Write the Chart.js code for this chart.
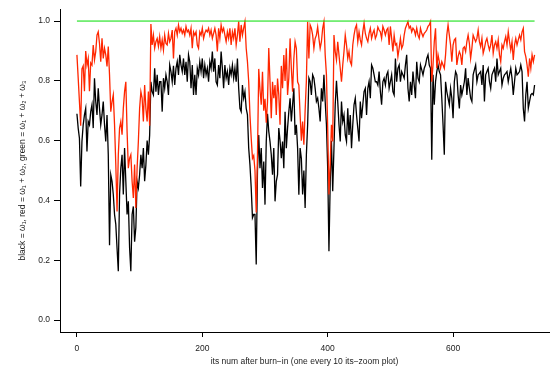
<!DOCTYPE html>
<html>
<head>
<meta charset="utf-8">
<title>omega trace</title>
<script src="https://cdn.jsdelivr.net/npm/chart.js@4.4.1/dist/chart.umd.min.js"></script>
<style>
  html, body { margin: 0; padding: 0; background: #fff; }
  #wrap { width: 553px; height: 379px; }
</style>
</head>
<body>
<div id="wrap"><canvas id="trace" width="553" height="379"></canvas></div>
<script>
/* one value every STEP iterations (0 .. 730) */
const STEP = 2;

// black = w1
const black = [
  0.69, 0.642, 0.608, 0.447, 0.597, 0.653, 0.686, 0.708, 0.564, 0.664,   // 0
  0.653, 0.697, 0.72, 0.642, 0.809, 0.731, 0.686, 0.775, 0.708, 0.653,   // 20
  0.686, 0.731, 0.653, 0.597, 0.686, 0.553, 0.25, 0.486, 0.464, 0.42,    // 40
  0.353, 0.32, 0.24, 0.163, 0.42, 0.508, 0.553, 0.42, 0.575, 0.464,      // 60
  0.353, 0.397, 0.242, 0.163, 0.353, 0.38, 0.262, 0.31, 0.464, 0.442,    // 80
  0.486, 0.553, 0.508, 0.575, 0.464, 0.519, 0.60, 0.553, 0.619, 0.797,   // 100
  0.764, 0.753, 0.842, 0.764, 0.82, 0.753, 0.797, 0.797, 0.697, 0.809,   // 120
  0.775, 0.82, 0.797, 0.753, 0.853, 0.831, 0.797, 0.85, 0.786, 0.842,    // 140
  0.864, 0.82, 0.887, 0.853, 0.831, 0.875, 0.82, 0.864, 0.797, 0.887,    // 160
  0.864, 0.775, 0.853, 0.753, 0.82, 0.753, 0.842, 0.82, 0.864, 0.831,    // 180
  0.875, 0.809, 0.853, 0.82, 0.842, 0.797, 0.864, 0.842, 0.898, 0.831,   // 200
  0.875, 0.797, 0.786, 0.853, 0.809, 0.898, 0.842, 0.775, 0.853, 0.809,  // 220
  0.831, 0.786, 0.842, 0.82, 0.853, 0.809, 0.842, 0.797, 0.875, 0.775,   // 240
  0.708, 0.697, 0.786, 0.742, 0.764, 0.708, 0.686, 0.575, 0.519, 0.442,  // 260
  0.342, 0.353, 0.353, 0.186, 0.50, 0.619, 0.508, 0.575, 0.442, 0.53,    // 280
  0.386, 0.597, 0.69, 0.631, 0.597, 0.553, 0.486, 0.575, 0.397, 0.464,   // 300
  0.486, 0.642, 0.60, 0.541, 0.597, 0.508, 0.697, 0.575, 0.642, 0.697,   // 320
  0.742, 0.664, 0.72, 0.775, 0.619, 0.653, 0.575, 0.419, 0.575, 0.54,    // 340
  0.42, 0.50, 0.375, 0.553, 0.653, 0.809, 0.797, 0.753, 0.82, 0.809,     // 360
  0.775, 0.731, 0.742, 0.708, 0.664, 0.775, 0.731, 0.82, 0.731, 0.653,   // 380
  0.508, 0.23, 0.46, 0.60, 0.431, 0.575, 0.72, 0.80, 0.731, 0.653,       // 400
  0.597, 0.731, 0.664, 0.686, 0.619, 0.597, 0.708, 0.619, 0.686, 0.575,  // 420
  0.653, 0.72, 0.742, 0.686, 0.642, 0.597, 0.731, 0.675, 0.72, 0.764,   // 440
  0.775, 0.686, 0.775, 0.797, 0.742, 0.853, 0.842, 0.82, 0.797, 0.797,   // 460
  0.786, 0.831, 0.764, 0.72, 0.797, 0.809, 0.786, 0.82, 0.831, 0.775,    // 480
  0.797, 0.82, 0.764, 0.753, 0.875, 0.797, 0.842, 0.853, 0.797, 0.831,   // 500
  0.82, 0.809, 0.853, 0.887, 0.775, 0.731, 0.797, 0.753, 0.831, 0.786,   // 520
  0.742, 0.864, 0.809, 0.797, 0.853, 0.837, 0.82, 0.842, 0.853, 0.875,   // 540
  0.887, 0.853, 0.842, 0.536, 0.82, 0.72, 0.797, 0.831, 0.853, 0.831,    // 560
  0.82, 0.742, 0.653, 0.553, 0.797, 0.764, 0.742, 0.72, 0.775, 0.742,    // 580
  0.675, 0.797, 0.831, 0.82, 0.753, 0.708, 0.786, 0.753, 0.775, 0.797,   // 600
  0.842, 0.753, 0.809, 0.775, 0.742, 0.731, 0.82, 0.837, 0.853, 0.797,   // 620
  0.82, 0.825, 0.831, 0.786, 0.853, 0.731, 0.82, 0.831, 0.842, 0.797,    // 640
  0.775, 0.82, 0.831, 0.842, 0.797, 0.875, 0.82, 0.831, 0.842, 0.786,    // 660
  0.809, 0.82, 0.825, 0.831, 0.797, 0.82, 0.842, 0.809, 0.753, 0.797,    // 680
  0.842, 0.82, 0.825, 0.831, 0.853, 0.831, 0.708, 0.664, 0.753, 0.797,   // 700
  0.708, 0.731, 0.753, 0.758, 0.753, 0.786                               // 720
];

// red = w1 + w2
const red = [
  0.887, 0.81, 0.73, 0.65, 0.84, 0.85, 0.765, 0.90, 0.853, 0.875,        // 0
  0.765, 0.86, 0.853, 0.92, 0.87, 0.898, 0.953, 0.964, 0.925, 0.864,     // 20
  0.942, 0.875, 0.909, 0.887, 0.848, 0.915, 0.82, 0.697, 0.73, 0.753,    // 40
  0.653, 0.52, 0.363, 0.553, 0.642, 0.664, 0.62, 0.708, 0.764, 0.797,    // 60
  0.631, 0.508, 0.541, 0.553, 0.464, 0.408, 0.52, 0.375, 0.508, 0.597,   // 80
  0.708, 0.764, 0.742, 0.664, 0.786, 0.708, 0.664, 0.764, 0.65, 0.99,    // 100
  0.92, 0.953, 0.909, 0.931, 0.942, 0.915, 0.948, 0.909, 0.937, 0.903,   // 120
  0.953, 0.925, 0.92, 0.959, 0.931, 0.942, 0.97, 0.875, 0.964, 0.976,    // 140
  0.953, 0.987, 0.964, 0.976, 0.959, 0.97, 0.953, 0.982, 0.964, 0.97,    // 160
  0.953, 0.976, 0.909, 0.964, 0.953, 0.964, 0.92, 0.909, 0.964, 0.953,   // 180
  0.976, 0.942, 0.959, 0.97, 0.964, 0.976, 0.953, 0.97, 0.942, 0.959,    // 200
  0.976, 0.953, 0.898, 0.976, 0.942, 0.987, 0.964, 0.976, 0.953, 0.931,  // 220
  0.964, 0.942, 0.976, 0.92, 0.964, 0.942, 0.976, 0.92, 0.953, 0.998,    // 240
  0.931, 0.987, 0.953, 0.976, 0.998, 0.909, 0.864, 0.797, 0.686, 0.608,  // 260
  0.541, 0.55, 0.50, 0.36, 0.55, 0.84, 0.77, 0.72, 0.83, 0.70,           // 280
  0.74, 0.66, 0.73, 0.91, 0.797, 0.675, 0.797, 0.742, 0.786, 0.686,      // 300
  0.808, 0.753, 0.653, 0.85, 0.775, 0.886, 0.80, 0.909, 0.753, 0.81,     // 320
  0.942, 0.842, 0.764, 0.875, 0.931, 0.909, 0.797, 0.786, 0.686, 0.60,   // 340
  0.664, 0.586, 0.70, 0.80, 0.998, 0.875, 0.987, 0.976, 0.953, 0.909,    // 360
  0.942, 0.953, 0.98, 0.942, 0.909, 0.931, 0.976, 0.998, 0.887, 0.82,    // 380
  0.642, 0.42, 0.52, 0.653, 0.597, 0.953, 0.898, 0.87, 0.931, 0.887,     // 400
  0.842, 0.797, 0.853, 0.898, 0.953, 0.92, 0.875, 0.898, 0.864, 0.853,   // 420
  0.92, 0.953, 0.976, 0.987, 0.931, 0.964, 0.937, 0.92, 0.964, 0.993,    // 440
  0.959, 0.942, 0.931, 0.959, 0.976, 0.942, 0.959, 0.97, 0.942, 0.953,   // 460
  0.98, 0.97, 0.964, 0.942, 0.982, 0.97, 0.953, 0.97, 0.976, 0.92,       // 480
  0.982, 0.942, 0.898, 0.953, 0.92, 0.925, 0.881, 0.909, 0.942, 0.909,   // 500
  0.92, 0.953, 0.976, 0.987, 0.998, 0.976, 0.982, 0.964, 0.976, 0.97,    // 520
  0.953, 0.976, 0.953, 0.942, 0.976, 0.959, 0.948, 0.959, 0.964, 0.97,   // 540
  0.982, 0.987, 0.998, 0.797, 0.853, 0.931, 0.976, 0.842, 0.887, 0.864,  // 560
  0.842, 0.864, 0.853, 0.842, 0.887, 0.953, 0.987, 0.953, 0.92, 0.864,   // 580
  0.92, 0.937, 0.942, 0.853, 0.881, 0.898, 0.887, 0.853, 0.909, 0.914,   // 600
  0.898, 0.931, 0.953, 0.925, 0.875, 0.909, 0.953, 0.942, 0.931, 0.942,  // 620
  0.97, 0.931, 0.914, 0.942, 0.892, 0.909, 0.931, 0.942, 0.92, 0.903,    // 640
  0.92, 0.953, 0.892, 0.92, 0.931, 0.909, 0.937, 0.887, 0.864, 0.92,     // 660
  0.909, 0.931, 0.948, 0.92, 0.964, 0.931, 0.903, 0.931, 0.87, 0.92,     // 680
  0.942, 0.92, 0.937, 0.953, 0.937, 0.964, 0.976, 0.898, 0.881, 0.853,   // 700
  0.814, 0.875, 0.842, 0.887, 0.864, 0.887                               // 720
];

// green = w1 + w2 + w3 stays at 1 over the whole run
const greenIters = [0, 730];
const green = [1, 1];

const xTicks = [0, 200, 400, 600];
const yTicks = [0, 0.2, 0.4, 0.6, 0.8, 1.0];

const FONT = "'Liberation Sans', Arial, Helvetica, sans-serif";
const INK = "#222";

function toPoints(vals) {
  return vals.map((v, i) => ({ x: i * STEP, y: v }));
}

const axisGrid = (len) => ({
  display: true,
  drawOnChartArea: false,
  drawTicks: true,
  tickLength: len,
  color: "#000",
  lineWidth: 1
});

new Chart(document.getElementById("trace"), {
  type: "line",
  data: {
    datasets: [
      {
        label: "green",
        data: greenIters.map((x, i) => ({ x, y: green[i] })),
        borderColor: "#00dd00",
        borderWidth: 1
      },
      {
        label: "red",
        data: toPoints(red),
        borderColor: "#ff2600",
        borderWidth: 1.3
      },
      {
        label: "black",
        data: toPoints(black),
        borderColor: "#000000",
        borderWidth: 1.3
      }
    ]
  },
  options: {
    responsive: false,
    animation: false,
    layout: { padding: { left: 0, top: 9, right: 4, bottom: 0 } },
    elements: {
      point: { radius: 0 },
      line: { tension: 0, fill: false }
    },
    plugins: {
      legend: { display: false },
      tooltip: { enabled: false }
    },
    scales: {
      x: {
        type: "linear",
        min: -27,
        max: 753,
        afterBuildTicks: (s) => { s.ticks = xTicks.map((v) => ({ value: v })); },
        afterFit: (s) => { s.height = 47; },
        border: { display: true, color: "#000", width: 1 },
        grid: axisGrid(5),
        ticks: {
          font: { family: FONT, size: 8.5 },
          color: INK,
          padding: 7,
          maxRotation: 0,
          autoSkip: false
        },
        title: {
          display: true,
          text: "its num after burn\u2212in (one every 10 its\u2212zoom plot)",
          font: { family: FONT, size: 8.5 },
          color: INK,
          padding: { top: 0, bottom: 12 }
        }
      },
      y: {
        min: -0.04,
        max: 1.04,
        afterBuildTicks: (s) => { s.ticks = yTicks.map((v) => ({ value: v })); },
        afterFit: (s) => { s.width = 60; },
        border: { display: true, color: "#000", width: 1 },
        grid: axisGrid(6),
        ticks: {
          font: { family: FONT, size: 8.5 },
          color: INK,
          padding: 4,
          callback: (v) => Number(v).toFixed(1)
        },
        title: {
          display: true,
          text: "black = \u03c9\u2081, red = \u03c9\u2081 + \u03c9\u2082, green = \u03c9\u2081 + \u03c9\u2082 + \u03c9\u2083",
          font: { family: FONT, size: 8.5 },
          color: INK,
          padding: { top: 18, bottom: 0 }
        }
      }
    }
  }
});
</script>
</body>
</html>
